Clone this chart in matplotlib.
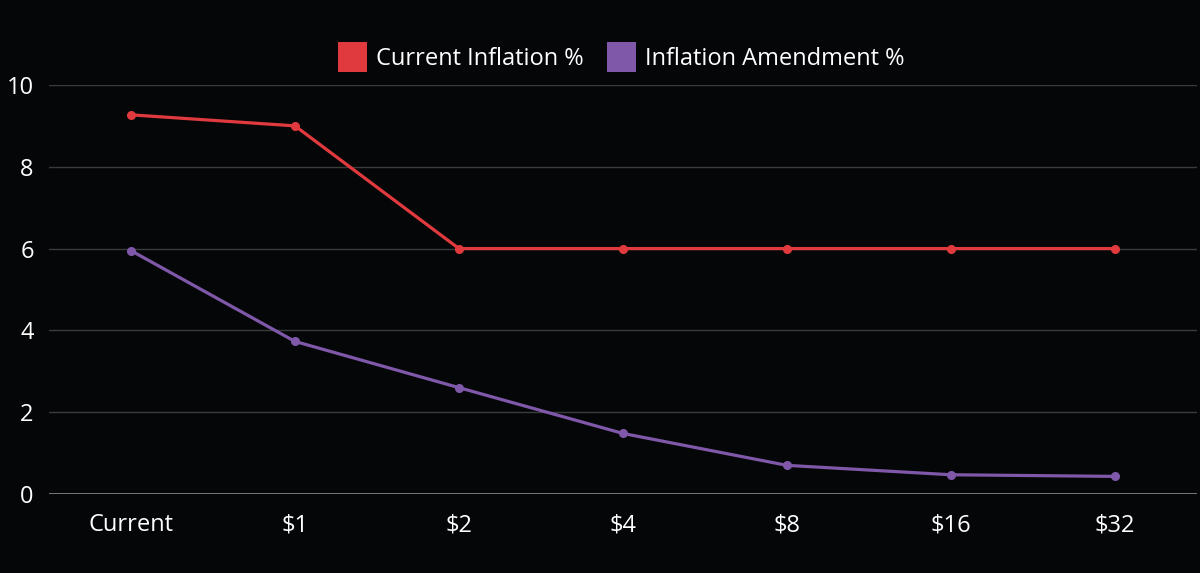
import matplotlib
matplotlib.use("Agg")
import matplotlib.pyplot as plt
from matplotlib.patches import Patch

categories = ["Current", "$1", "$2", "$4", "$8", "$16", "$32"]
current_inflation = [9.27, 9.0, 6.0, 6.0, 6.0, 6.0, 6.0]
amendment_inflation = [5.95, 3.73, 2.6, 1.48, 0.7, 0.47, 0.43]
y_ticks = [0, 2, 4, 6, 8, 10]

bg = "#050608"
red = "#e03a3e"
purple = "#7f58a9"

plt.rcParams['font.family'] = ['Open Sans', 'DejaVu Sans']

fig = plt.figure(figsize=(12, 5.73), dpi=100, facecolor=bg)
ax = fig.add_axes([0.0408, 0.1379, 0.9567, 0.7138], facecolor=bg)

x = list(range(len(categories)))
ax.plot(x, current_inflation, color=red, lw=2.3, marker="o", ms=5.5, zorder=3)
ax.plot(x, amendment_inflation, color=purple, lw=2.3, marker="o", ms=5.5, zorder=3)

ax.set_xlim(-0.5, len(categories) - 0.5)
ax.set_ylim(0, 10)
ax.set_xticks(x)
ax.set_xticklabels(categories)
ax.set_yticks(y_ticks)
ax.set_yticklabels([str(t) for t in y_ticks])

for t in y_ticks[1:]:
    ax.axhline(t, color="#3a3b3d", lw=1, zorder=1)
ax.axhline(0, color="#8a8a8a", lw=1.2, zorder=2)

for s in ax.spines.values():
    s.set_visible(False)
ax.tick_params(axis="both", length=0, colors="white", labelsize=17)
ax.tick_params(axis="x", pad=14)
ax.tick_params(axis="y", pad=11)

handles = [Patch(facecolor=red, label="Current Inflation %"),
           Patch(facecolor=purple, label="Inflation Amendment %")]
leg = fig.legend(handles=handles, loc="center", bbox_to_anchor=(0.518, 0.90),
                 ncol=2, frameon=False, fontsize=17, labelcolor="white",
                 handlelength=1.2, handleheight=1.6, handletextpad=0.4,
                 columnspacing=1.0)

fig.savefig("out.png", dpi=100, facecolor=bg)
